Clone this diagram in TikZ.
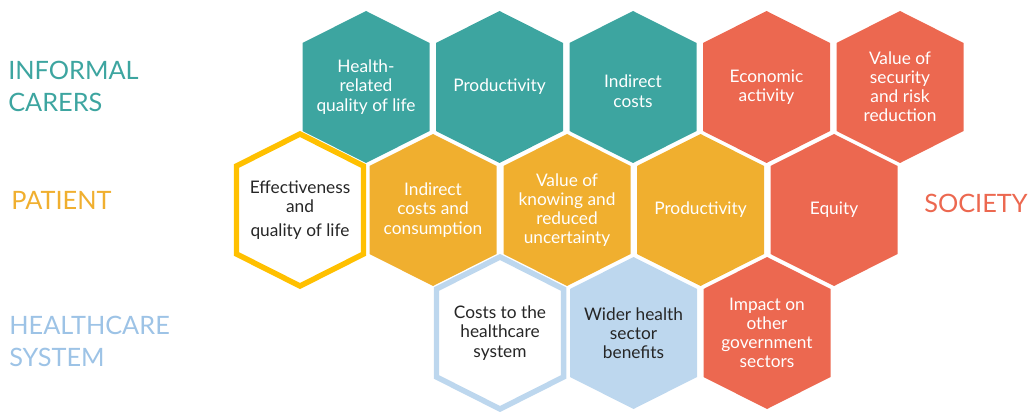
\documentclass[tikz,border=0pt]{standalone}
\usepackage{fontspec}
\setmainfont{Lato}

\definecolor{carerteal}{HTML}{3DA5A0}
\definecolor{patientamber}{HTML}{F0AF2F}
\definecolor{patientring}{HTML}{FFC000}
\definecolor{systemblue}{HTML}{BDD7EE}
\definecolor{systemlabel}{HTML}{9DC3E6}
\definecolor{societyred}{HTML}{EC6850}
\definecolor{hexdark}{HTML}{262626}

% ---------- parameters ----------
\def\hexw{63.5}      % half width of a hexagon
\def\hexs{88}        % height of the vertical sides
\def\hexd{32}        % rise of the slanted sides
\def\hexh{76}        % half height up to the tip
\def\hexring{3.9pt}  % outline of the open hexagons

% hexagon outline around a named centre
\def\hexpath#1{(#1) ++(0,-\hexh) -- ++(\hexw,\hexd) -- ++(0,\hexs)
  -- ++(-\hexw,\hexd) -- ++(-\hexw,-\hexd) -- ++(0,-\hexs) -- cycle}

% #1 name, #2 x, #3 y, #4 path style, #5 text style, #6 text
\newcommand{\hexcell}[6]{%
  \coordinate (#1) at (#2,#3);
  \path[#4] \hexpath{#1};
  \node[hextext,#5] (#1-txt) at (#1) {#6};
}

\begin{document}
\begin{tikzpicture}[
  x={(0.025cm,0cm)},
  y={(0cm,-0.025cm)},
  line join=miter,
  hextext/.style={align=center,inner sep=0pt,
    font=\fontsize{12.3}{13.6}\selectfont,text=white},
  darktext/.style={text=hexdark},
  grouplabel/.style={align=left,anchor=west,inner sep=0pt,
    font=\fontsize{18}{22.7}\selectfont},
  ringed/.style={draw=#1,line width=\hexring,fill=white}
]

\useasboundingbox (0,0) rectangle (1030,412);

% ---------- informal carers / society, top row ----------
\hexcell{carerQol}{366}{87}{fill=carerteal}{}{Health-\\related\\quality of life}
\hexcell{carerProd}{499.5}{87}{fill=carerteal}{}{Productivity}
\hexcell{carerCost}{633}{87}{fill=carerteal}{yshift=-3pt}{Indirect\\costs}
\hexcell{socEcon}{766.5}{87}{fill=societyred}{}{Economic\\activity}
\hexcell{socRisk}{900}{87}{fill=societyred}{}{Value of\\security\\and risk\\reduction}

% ---------- patient, middle row ----------
\hexcell{patQol}{300}{210}{ringed=patientring}{darktext}{Effectiveness\\and\\[3pt]quality of life}
\hexcell{patCost}{433}{210}{fill=patientamber}{}{Indirect\\costs and\\consumption}
\hexcell{patKnow}{567}{210}{fill=patientamber}{}{Value of\\knowing and\\reduced\\uncertainty}
\hexcell{patProd}{700.5}{210}{fill=patientamber}{}{Productivity}
\hexcell{socEquity}{834}{210}{fill=societyred}{}{Equity}

% ---------- healthcare system, bottom row ----------
\hexcell{sysCost}{500}{333}{ringed=systemblue}{darktext}{Costs to the\\healthcare\\system}
\hexcell{sysWider}{633.5}{333}{fill=systemblue}{darktext}{Wider health\\sector\\benefits}
\hexcell{socGov}{767}{333}{fill=societyred}{}{Impact on\\other\\government\\sectors}

% ---------- group labels ----------
\node[grouplabel,text=carerteal] (carers) at (8,86) {INFORMAL\\CARERS};
\node[grouplabel,text=patientamber] (patient) at (11,200) {PATIENT};
\node[grouplabel,text=systemlabel] (system) at (9,341) {HEALTHCARE\\SYSTEM};
\node[grouplabel,text=societyred] (society) at (924,203) {SOCIETY};

\end{tikzpicture}
\end{document}
